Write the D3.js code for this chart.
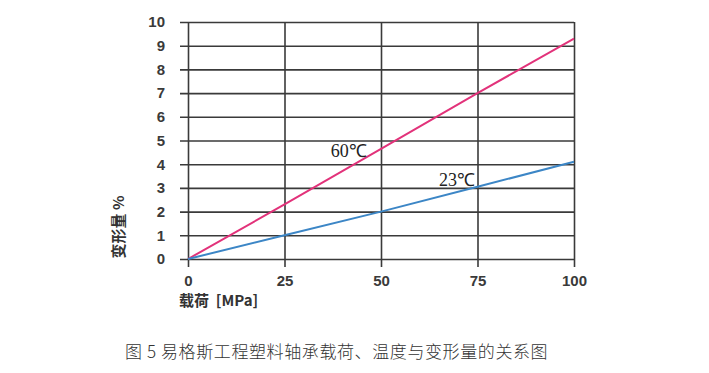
<!DOCTYPE html>
<html>
<head>
<meta charset="utf-8">
<script src="https://cdn.jsdelivr.net/npm/d3@7"></script>
<style>
  body { margin: 0; background: #fff; }
  .tick text { font-family: "Liberation Sans", Arial, sans-serif; font-weight: bold; font-size: 15px; fill: #3a3a3a; }
</style>
</head>
<body>
<div id="chart"></div>
<script>
var svgWidth = 709;
var svgHeight = 373;

var margin = { top: 22, right: 135, bottom: 114, left: 188 };
var width = svgWidth - margin.left - margin.right;
var height = svgHeight - margin.top - margin.bottom;

// data
var loads = [0, 25, 50, 75, 100];
var deform60 = [0, 2.3, 4.65, 7.0, 9.3];
var deform23 = [0, 1.0, 2.0, 3.05, 4.1];
var xTicks = [0, 25, 50, 75, 100];
var yTicks = [0, 1, 2, 3, 4, 5, 6, 7, 8, 9, 10];

var svg = d3.select("#chart")
  .append("svg")
  .attr("width", svgWidth)
  .attr("height", svgHeight);

var chartGroup = svg.append("g")
  .attr("transform", `translate(${margin.left}, ${margin.top})`);

var x = d3.scaleLinear().domain([0, 100]).range([0, width]);
var y = d3.scaleLinear().domain([0, 10]).range([height, 0]);

// horizontal grid + y labels
var leftAxis = d3.axisLeft(y).tickValues(yTicks).tickSize(-width - 8).tickPadding(15);
var gy = chartGroup.append("g")
  .attr("transform", "translate(-8,0)")
  .call(leftAxis);
gy.select(".domain").remove();
gy.selectAll(".tick line")
  .attr("x1", 0)
  .attr("x2", width + 8)
  .attr("stroke", "#3a3a3a")
  .attr("stroke-width", 1.6);

// vertical grid + x labels
var bottomAxis = d3.axisBottom(x).tickValues(xTicks).tickSize(height + 8).tickPadding(8);
var gx = chartGroup.append("g")
  .call(bottomAxis);
gx.select(".domain").remove();
gx.selectAll(".tick line")
  .attr("stroke", "#3a3a3a")
  .attr("stroke-width", 1.6);

// lines
var line = d3.line()
  .x(function(d) { return x(d[0]); })
  .y(function(d) { return y(d[1]); });

chartGroup.append("path")
  .datum(loads.map(function(l, i) { return [l, deform60[i]]; }))
  .attr("fill", "none")
  .attr("stroke", "#e2327a")
  .attr("stroke-width", 2)
  .attr("d", line);

chartGroup.append("path")
  .datum(loads.map(function(l, i) { return [l, deform23[i]]; }))
  .attr("fill", "none")
  .attr("stroke", "#3c86c6")
  .attr("stroke-width", 2)
  .attr("d", line);

// series labels
chartGroup.append("text")
  .attr("x", x(37))
  .attr("y", y(4.3))
  .style("font-family", "'Liberation Serif', serif")
  .style("font-size", "18px")
  .style("fill", "#222")
  .text("60℃");

chartGroup.append("text")
  .attr("x", x(65))
  .attr("y", y(3.1))
  .style("font-family", "'Liberation Serif', serif")
  .style("font-size", "18px")
  .style("fill", "#222")
  .text("23℃");

// axis titles
svg.append("text")
  .attr("transform", "translate(124, 227) rotate(-90)")
  .style("text-anchor", "middle")
  .style("font-family", "'Noto Sans CJK SC', sans-serif")
  .style("font-weight", "bold")
  .style("font-size", "15px")
  .style("fill", "#333")
  .text("变形量 %");

svg.append("text")
  .attr("x", 179)
  .attr("y", 306)
  .attr("xml:space", "preserve")
  .style("white-space", "pre")
  .style("font-family", "'Noto Sans CJK SC', sans-serif")
  .style("font-weight", "bold")
  .style("font-size", "15px")
  .style("fill", "#333")
  .text("载荷  [MPa]");

// caption
svg.append("text")
  .attr("x", 125)
  .attr("y", 358)
  .style("font-family", "'Noto Sans CJK SC', sans-serif")
  .style("font-weight", "300")
  .style("font-size", "17px")
  .style("letter-spacing", "0.6px")
  .style("fill", "#333")
  .text("图 5 易格斯工程塑料轴承载荷、温度与变形量的关系图");
</script>
</body>
</html>
